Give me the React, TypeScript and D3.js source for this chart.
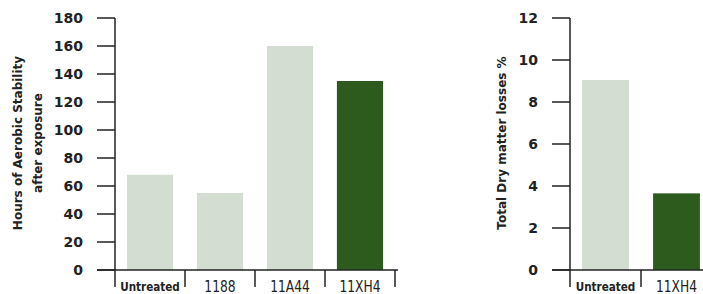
import React from 'react'
import * as d3 from 'd3'

const stabilityCategories = ['Untreated', '1188', '11A44', '11XH4']
const stabilityValues = [68, 55, 160, 135]
const stabilityTicks = [0, 20, 40, 60, 80, 100, 120, 140, 160, 180]

const lossCategories = ['Untreated', '11XH4']
const lossValues = [9.05, 3.65]
const lossTicks = [0, 2, 4, 6, 8, 10, 12]

const LIGHT = '#d4ddd1'
const DARK = '#2c5b1d'
const INK = '#222'
const FONT = '"DejaVu Sans", sans-serif'

interface PanelProps {
  categories: string[]
  values: number[]
  ticks: number[]
  yMax: number
  xStart: number
  xEnd: number
  labelLines: string[]
  labelX: number[]
  baselineEnd: number
}

function Panel({ categories, values, ticks, yMax, xStart, xEnd, labelLines, labelX, baselineEnd }: PanelProps) {
  const top = 18
  const bottom = 270
  const y = d3.scaleLinear().domain([0, yMax]).range([bottom, top])
  const x = d3.scaleBand<string>()
    .domain(categories)
    .range([xStart, xEnd])
    .paddingInner(0.34)
    .paddingOuter(0.17)
  const step = x.step()
  const tickLeft = xStart - 18
  const midY = 143

  return (
    <g>
      {/* bars */}
      {categories.map((c, i) => (
        <rect
          key={c}
          x={x(c)}
          y={y(values[i])}
          width={x.bandwidth()}
          height={bottom - y(values[i])}
          fill={c === '11XH4' ? DARK : LIGHT}
        />
      ))}

      {/* y axis */}
      <line x1={xStart} x2={xStart} y1={top} y2={bottom} stroke={INK} strokeWidth={1.5} />
      {ticks.map(t => (
        <g key={t}>
          <line x1={tickLeft} x2={xStart} y1={y(t)} y2={y(t)} stroke={INK} strokeWidth={1.5} />
          <text
            x={tickLeft - 14}
            y={y(t)}
            dy="0.36em"
            textAnchor="end"
            fontFamily={FONT}
            fontWeight="bold"
            fontSize={14}
            fill={INK}
          >
            {t}
          </text>
        </g>
      ))}

      {/* baseline and category separators */}
      <line x1={tickLeft} x2={baselineEnd} y1={bottom} y2={bottom} stroke={INK} strokeWidth={1.5} />
      {d3.range(categories.length + 1).map(i => (
        <line
          key={i}
          x1={xStart + i * step}
          x2={xStart + i * step}
          y1={bottom}
          y2={bottom + 17}
          stroke={INK}
          strokeWidth={1.5}
        />
      ))}
      {categories.map(c => {
        const small = c === 'Untreated'
        const cx = (x(c) ?? 0) + x.bandwidth() / 2
        return (
          <text
            key={c}
            transform={`translate(${cx},${small ? 291 : 292}) scale(${small ? 0.87 : 0.82},1)`}
            textAnchor="middle"
            fontFamily={FONT}
            fontWeight="bold"
            fontSize={small ? 12 : 15}
            fill={INK}
            style={{ fontWeight: small ? 700 : 500 }}
          >
            {c}
          </text>
        )
      })}

      {/* y label */}
      {labelLines.map((line, i) => (
        <text
          key={line}
          transform={`translate(${labelX[i]},${midY}) rotate(-90)`}
          textAnchor="middle"
          fontFamily={FONT}
          fontWeight="bold"
          fontSize={12}
          fill={INK}
        >
          {line}
        </text>
      ))}
    </g>
  )
}

export default function App() {
  return (
    <svg
      width={703}
      height={294}
      style={{ position: 'absolute', left: 0, top: 0, background: '#fff' }}
    >
      <Panel
        categories={stabilityCategories}
        values={stabilityValues}
        ticks={stabilityTicks}
        yMax={180}
        xStart={115}
        xEnd={395}
        labelLines={['Hours of Aerobic Stability', 'after exposure']}
        labelX={[22, 42]}
        baselineEnd={398}
      />
      <Panel
        categories={lossCategories}
        values={lossValues}
        ticks={lossTicks}
        yMax={12}
        xStart={570}
        xEnd={712}
        labelLines={['Total Dry matter losses %']}
        labelX={[506]}
        baselineEnd={703}
      />
    </svg>
  )
}
